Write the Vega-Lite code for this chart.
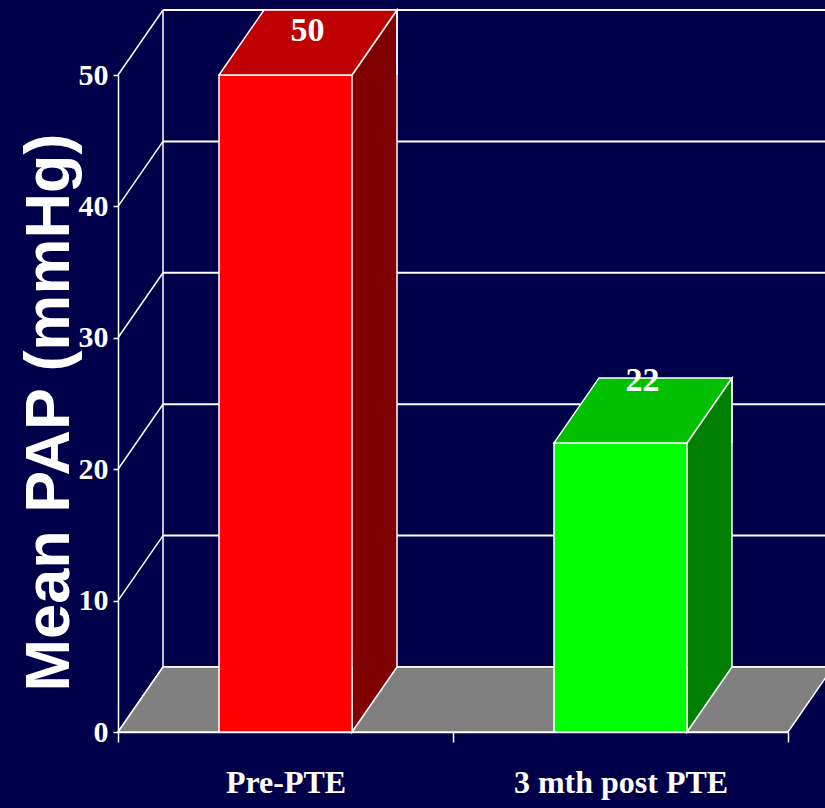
{
  "$schema": "https://vega.github.io/schema/vega-lite/v6.json",
  "width": 670,
  "height": 657,
  "autosize": {"type": "none"},
  "padding": {"left": 118, "top": 75, "right": 37, "bottom": 76},
  "background": "#00004a",
  "config": {
    "view": {"stroke": null},
    "axis": {
      "grid": false,
      "domainColor": "white",
      "domainWidth": 1.5,
      "tickColor": "white",
      "tickWidth": 1.5,
      "labelColor": "white",
      "labelFont": "Liberation Serif",
      "labelFontWeight": "bold",
      "labelLimit": 0,
      "titleColor": "white"
    }
  },
  "datasets": {
    "pap": [
      {"group": "Pre-PTE", "pap": 50},
      {"group": "3 mth post PTE", "pap": 22}
    ],
    "yTicks": [
      {"tick": 0}, {"tick": 10}, {"tick": 20}, {"tick": 30}, {"tick": 40}, {"tick": 50}
    ]
  },
  "resolve": {"scale": {"x": "independent"}},
  "layer": [
    {
      "data": {"name": "yTicks"},
      "layer": [
        {
          "mark": {"type": "rule", "color": "white", "strokeWidth": 2, "xOffset": 45, "x2Offset": 45, "yOffset": -65, "y2Offset": -65},
          "encoding": {
            "x": {"datum": 0, "type": "quantitative", "scale": {"domain": [0, 2]}, "axis": null},
            "x2": {"datum": 2.2},
            "y": {
              "field": "tick",
              "type": "quantitative",
              "scale": {"domain": [0, 50], "nice": false},
              "axis": {
                "values": [0, 10, 20, 30, 40, 50],
                "tickSize": 5,
                "labelPadding": 5,
                "labelFontSize": 30,
                "title": "Mean PAP (mmHg)",
                "titleFont": "Liberation Sans",
                "titleFontSize": 63,
                "titleFontWeight": "bold",
                "titleAngle": -90,
                "titleX": -50,
                "titleY": 337,
                "titleAlign": "center",
                "titleBaseline": "alphabetic"
              }
            },
            "y2": {"field": "tick"}
          }
        },
        {
          "mark": {"type": "rule", "color": "white", "strokeWidth": 1.5, "x2Offset": 45, "y2Offset": -65},
          "encoding": {
            "x": {"datum": 0, "type": "quantitative", "scale": {"domain": [0, 2]}, "axis": null},
            "x2": {"datum": 0},
            "y": {"field": "tick", "type": "quantitative"},
            "y2": {"field": "tick"}
          }
        },
        {
          "data": {"values": [{}]},
          "mark": {"type": "rule", "color": "white", "strokeWidth": 1.5, "xOffset": 45, "yOffset": -65, "y2Offset": -65},
          "encoding": {
            "x": {"datum": 0, "type": "quantitative", "scale": {"domain": [0, 2]}, "axis": null},
            "y": {"datum": 0, "type": "quantitative"},
            "y2": {"datum": 50}
          }
        },
        {
          "data": {"values": [{}]},
          "mark": {
            "type": "point",
            "shape": "M0,0L670,0L715,-65L45,-65Z",
            "size": 4,
            "filled": true,
            "fill": "#808080",
            "stroke": "white",
            "strokeWidth": 1.5,
            "opacity": 1
          },
          "encoding": {
            "x": {"datum": 0, "type": "quantitative", "scale": {"domain": [0, 2]}, "axis": null},
            "y": {"datum": 0, "type": "quantitative"}
          }
        }
      ]
    },
    {
      "data": {"name": "pap"},
      "encoding": {
        "x": {
          "field": "group",
          "type": "nominal",
          "sort": null,
          "scale": {"paddingInner": 0, "paddingOuter": 0},
          "axis": {
            "title": null,
            "tickBand": "extent",
            "tickSize": 10,
            "labelAngle": 0,
            "labelFontSize": 32,
            "labelBaseline": "alphabetic",
            "labelPadding": 50
          }
        }
      },
      "resolve": {"scale": {"fill": "independent"}},
      "layer": [
        {
          "mark": {"type": "bar", "width": 45, "xOffset": 89, "y2Offset": -65},
          "encoding": {
            "y": {"field": "pap", "type": "quantitative", "stack": null},
            "y2": {"datum": 0},
            "fill": {"field": "group", "type": "nominal", "sort": null, "scale": {"range": ["#800000", "#008000"]}, "legend": null}
          }
        },
        {
          "mark": {
            "type": "point",
            "shape": "M66.5,-65L66.5,0L111.5,-65",
            "size": 4,
            "filled": true,
            "stroke": "white",
            "strokeWidth": 1.5,
            "opacity": 1
          },
          "encoding": {
            "y": {"datum": 0, "type": "quantitative"},
            "fill": {"field": "group", "type": "nominal", "sort": null, "scale": {"range": ["#800000", "#008000"]}, "legend": null}
          }
        },
        {
          "mark": {
            "type": "point",
            "shape": "M66.5,0L111.5,-65L111.5,0",
            "size": 4,
            "filled": true,
            "stroke": "white",
            "strokeWidth": 1.5,
            "opacity": 1
          },
          "encoding": {
            "y": {"field": "pap", "type": "quantitative"},
            "fill": {"field": "group", "type": "nominal", "sort": null, "scale": {"range": ["#800000", "#008000"]}, "legend": null}
          }
        },
        {
          "mark": {"type": "rule", "color": "white", "strokeWidth": 1.5, "xOffset": 111.5, "yOffset": -65, "y2Offset": -65},
          "encoding": {
            "y": {"field": "pap", "type": "quantitative"},
            "y2": {"datum": 0}
          }
        },
        {
          "mark": {"type": "bar", "width": 133, "stroke": "white", "strokeWidth": 1.5},
          "encoding": {
            "y": {"field": "pap", "type": "quantitative", "stack": null},
            "y2": {"datum": 0},
            "fill": {"field": "group", "type": "nominal", "sort": null, "scale": {"range": ["#ff0000", "#00ff00"]}, "legend": null}
          }
        },
        {
          "mark": {
            "type": "point",
            "shape": "M-66.5,0L66.5,0L111.5,-65L-21.5,-65Z",
            "size": 4,
            "filled": true,
            "stroke": "white",
            "strokeWidth": 1.5,
            "opacity": 1
          },
          "encoding": {
            "y": {"field": "pap", "type": "quantitative"},
            "fill": {"field": "group", "type": "nominal", "sort": null, "scale": {"range": ["#c00000", "#00c000"]}, "legend": null}
          }
        },
        {
          "transform": [{"filter": "datum.pap > 45"}],
          "mark": {"type": "text", "font": "Liberation Serif", "fontWeight": "bold", "fontSize": 34, "color": "white", "dx": 22, "dy": -44, "baseline": "middle"},
          "encoding": {
            "y": {"field": "pap", "type": "quantitative"},
            "text": {"field": "pap", "type": "quantitative"}
          }
        },
        {
          "transform": [{"filter": "datum.pap <= 45"}],
          "mark": {"type": "text", "font": "Liberation Serif", "fontWeight": "bold", "fontSize": 34, "color": "white", "dx": 22, "dy": -62, "baseline": "middle"},
          "encoding": {
            "y": {"field": "pap", "type": "quantitative"},
            "text": {"field": "pap", "type": "quantitative"}
          }
        }
      ]
    }
  ]
}
